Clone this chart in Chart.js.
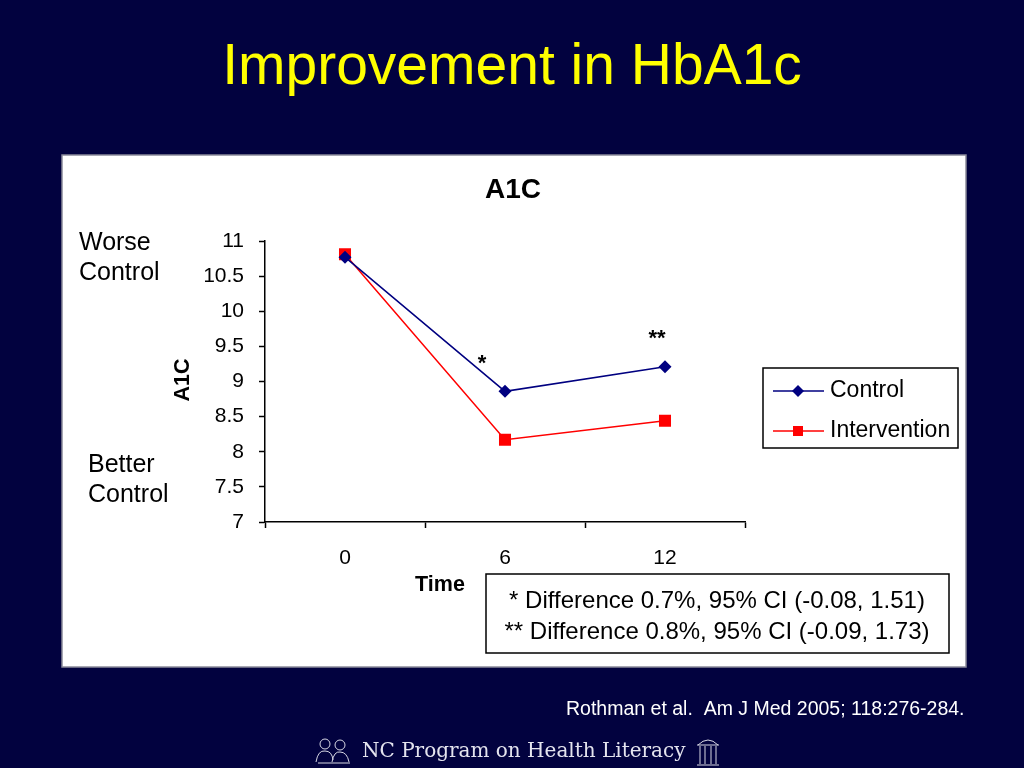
<!DOCTYPE html>
<html>
<head>
<meta charset="utf-8">
<script src="https://cdn.jsdelivr.net/npm/chart.js@4.4.1/dist/chart.umd.min.js"></script>
<style>
  html, body { margin: 0; padding: 0; background: #02023f; }
  #wrap { position: relative; width: 1024px; height: 768px; }
</style>
</head>
<body>
<div id="wrap"><canvas id="chart" width="1024" height="768"></canvas></div>
<script>
// data
const months = ["0", "6", "12"];
const controlA1c = [10.77, 8.86, 9.21];
const interventionA1c = [10.81, 8.17, 8.44];
const yTicks = [7, 7.5, 8, 8.5, 9, 9.5, 10, 10.5, 11];
const notes = ["* Difference 0.7%, 95% CI (-0.08, 1.51)", "** Difference 0.8%, 95% CI (-0.09, 1.73)"];

const FONT = "'Liberation Sans', Arial, sans-serif";

// little line icons next to the footer text
const drawFooterIcons = (ctx) => {
    ctx.save();
    ctx.strokeStyle = "#d8d8e4";
    ctx.lineWidth = 1;
    // two readers
    ctx.beginPath(); ctx.arc(325, 744, 5, 0, Math.PI * 2); ctx.stroke();
    ctx.beginPath(); ctx.arc(340, 745, 5, 0, Math.PI * 2); ctx.stroke();
    ctx.beginPath();
    ctx.moveTo(316, 762); ctx.quadraticCurveTo(318, 750, 325, 751);
    ctx.quadraticCurveTo(332, 751, 333, 760);
    ctx.moveTo(332, 762); ctx.quadraticCurveTo(334, 751, 340, 752);
    ctx.quadraticCurveTo(347, 752, 349, 762);
    ctx.moveTo(318, 763); ctx.lineTo(350, 763);
    ctx.stroke();
    // column building
    ctx.beginPath();
    ctx.moveTo(698, 745); ctx.quadraticCurveTo(708, 735, 718, 745);
    ctx.moveTo(697, 745); ctx.lineTo(719, 745);
    ctx.moveTo(697, 765); ctx.lineTo(719, 765);
    [700, 705, 711, 716].forEach(x => { ctx.moveTo(x, 746); ctx.lineTo(x, 764); });
    ctx.stroke();
    ctx.restore();
};

// draws slide background, panel, titles, legend and notes
const slidePlugin = {
    id: "slide",
    beforeDraw(chart) {
        const ctx = chart.ctx;
        ctx.save();
        ctx.fillStyle = "#02023f";
        ctx.fillRect(0, 0, 1024, 768);
        // white panel
        ctx.fillStyle = "#ffffff";
        ctx.fillRect(62, 155, 904, 512);
        ctx.strokeStyle = "#8a8a9a";
        ctx.lineWidth = 1.5;
        ctx.strokeRect(62, 155, 904, 512);

        // slide title
        ctx.fillStyle = "#ffff00";
        ctx.font = "57px " + FONT;
        ctx.textAlign = "center";
        ctx.textBaseline = "middle";
        ctx.fillText("Improvement in HbA1c", 512, 68);

        // citation and footer
        ctx.fillStyle = "#ffffff";
        ctx.font = "19.5px " + FONT;
        ctx.textAlign = "left";
        ctx.fillText("Rothman et al.  Am J Med 2005; 118:276-284.", 566, 710);
        ctx.fillStyle = "#e4e4ee";
        ctx.font = "20px 'DejaVu Serif', serif";
        ctx.fillText("NC Program on Health Literacy", 362, 752);
        drawFooterIcons(ctx);
        ctx.restore();
    },
    afterDraw(chart) {
        const ctx = chart.ctx;
        ctx.save();
        ctx.fillStyle = "#000000";
        ctx.textBaseline = "middle";

        // chart title
        ctx.font = "bold 28px " + FONT;
        ctx.textAlign = "center";
        ctx.fillText("A1C", 513, 190);

        // axis titles
        ctx.font = "bold 21.5px " + FONT;
        ctx.fillText("Time", 440, 585);
        ctx.save();
        ctx.translate(183, 380);
        ctx.rotate(-Math.PI / 2);
        ctx.fillText("A1C", 0, 0);
        ctx.restore();

        // side labels
        ctx.font = "25px " + FONT;
        ctx.textAlign = "left";
        ctx.fillText("Worse", 79, 243);
        ctx.fillText("Control", 79, 273);
        ctx.fillText("Better", 88, 465);
        ctx.fillText("Control", 88, 495);

        // significance stars over the control points
        const meta = chart.getDatasetMeta(0);
        ctx.font = "bold 22px " + FONT;
        ctx.textAlign = "center";
        ctx.fillText("*", meta.data[1].x - 23, meta.data[1].y - 27);
        ctx.fillText("**", meta.data[2].x - 8, meta.data[2].y - 28);

        // legend
        ctx.strokeStyle = "#000000";
        ctx.lineWidth = 1.5;
        ctx.strokeRect(763, 368, 195, 80);
        ctx.font = "23px " + FONT;
        ctx.textAlign = "left";
        chart.data.datasets.forEach((ds, i) => {
            const y = 391 + i * 40;
            ctx.strokeStyle = ds.borderColor;
            ctx.lineWidth = 1.5;
            ctx.beginPath();
            ctx.moveTo(773, y);
            ctx.lineTo(824, y);
            ctx.stroke();
            ctx.fillStyle = ds.backgroundColor;
            ctx.beginPath();
            if (ds.pointStyle === "rectRot") {
                ctx.moveTo(798, y - 6);
                ctx.lineTo(804, y);
                ctx.lineTo(798, y + 6);
                ctx.lineTo(792, y);
                ctx.closePath();
            } else {
                ctx.rect(793, y - 5, 10, 10);
            }
            ctx.fill();
            ctx.fillStyle = "#000000";
            ctx.fillText(ds.label, 830, y);
        });

        // notes box
        ctx.strokeStyle = "#000000";
        ctx.lineWidth = 1.5;
        ctx.strokeRect(486, 574, 463, 79);
        ctx.textAlign = "center";
        ctx.font = "24px " + FONT;
        ctx.fillText(notes[0], 717, 601);
        ctx.fillText(notes[1], 717, 632);
        ctx.restore();
    }
};

const ctx = document.getElementById("chart").getContext("2d");
const chart = new Chart(ctx, {
    type: "line",
    data: {
        labels: months,
        datasets: [{
            label: "Control",
            data: controlA1c,
            borderColor: "#000080",
            backgroundColor: "#000080",
            borderWidth: 1.5,
            pointStyle: "rectRot",
            pointRadius: 6.5,
            pointBorderWidth: 0,
            tension: 0
        }, {
            label: "Intervention",
            data: interventionA1c,
            borderColor: "#ff0000",
            backgroundColor: "#ff0000",
            borderWidth: 1.5,
            pointStyle: "rect",
            pointRadius: 8.5,
            pointBorderWidth: 0,
            tension: 0
        }]
    },
    options: {
        responsive: false,
        animation: false,
        devicePixelRatio: 1,
        layout: { padding: { left: 205, right: 279, top: 241, bottom: 186 } },
        plugins: {
            legend: { display: false },
            tooltip: { enabled: false }
        },
        scales: {
            x: {
                type: "category",
                offset: true,
                afterFit: (s) => { s.height = 60; },
                border: { color: "#000000", width: 1.5 },
                grid: { offset: true, drawOnChartArea: false, drawTicks: true, tickLength: 6, tickColor: "#000000", tickWidth: 1.5 },
                ticks: { color: "#000000", font: { family: FONT, size: 21 }, padding: 18 }
            },
            y: {
                min: 7,
                max: 11,
                afterFit: (s) => { s.width = 60; },
                afterBuildTicks: (s) => { s.ticks = yTicks.map(v => ({ value: v })); },
                border: { color: "#000000", width: 1.5 },
                grid: { drawOnChartArea: false, drawTicks: true, tickLength: 6, tickColor: "#000000", tickWidth: 1.5 },
                ticks: { color: "#000000", font: { family: FONT, size: 21 }, padding: 15, callback: (v) => String(v) }
            }
        }
    },
    plugins: [slidePlugin]
});
</script>
</body>
</html>
